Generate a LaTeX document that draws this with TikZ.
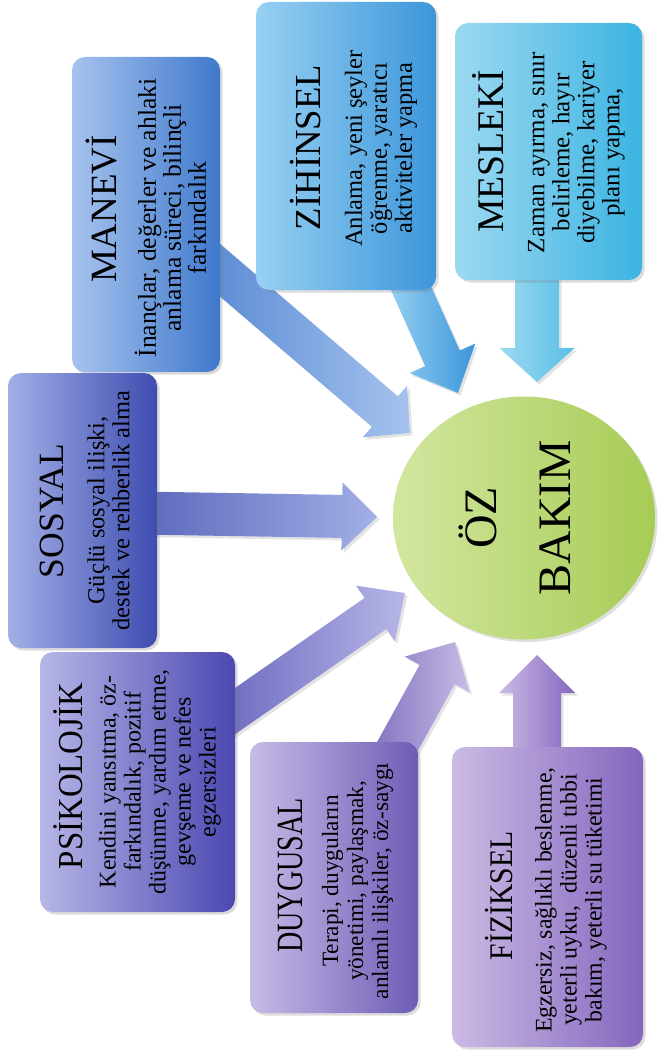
\documentclass[tikz,border=0pt]{standalone}
\usepackage{fontspec}
\setmainfont{Liberation Serif}
\usetikzlibrary{calc,shapes.geometric,shadows}
\definecolor{c1L}{HTML}{A6C3EE}\definecolor{c1R}{HTML}{3F78CC}
\definecolor{c2L}{HTML}{97D0F2}\definecolor{c2R}{HTML}{3C96DA}
\definecolor{c3L}{HTML}{9CD9F1}\definecolor{c3R}{HTML}{3CB4E2}
\definecolor{c4L}{HTML}{A3AFE6}\definecolor{c4R}{HTML}{3E4DB0}
\definecolor{c5L}{HTML}{B7B6E7}\definecolor{c5R}{HTML}{4B48B1}
\definecolor{c6L}{HTML}{C7BBE6}\definecolor{c6R}{HTML}{6E5CB6}
\definecolor{c7L}{HTML}{CBBBE4}\definecolor{c7R}{HTML}{8466BE}
\definecolor{gL}{HTML}{D3E6A0}\definecolor{gR}{HTML}{A6CC55}
\newcommand\blockarrow[6]{%
  \path[#6] let \p1=(#1), \p2=(#2),
      \n1={atan2(\y2-\y1,\x2-\x1)},
      \n2={veclen(\x2-\x1,\y2-\y1)} in
    {[shift={(\p1)}, rotate=\n1]
      (0,-#3) -- ({\n2-#5},-#3) -- ({\n2-#5},-#4) -- ({\n2},0)
      -- ({\n2-#5},#4) -- ({\n2-#5},#3) -- (0,#3) -- cycle};
}
\tikzset{
  box/.style={rectangle, rounded corners=13pt, inner sep=0pt, draw=none,
    drop shadow={opacity=0.28, shadow xshift=2.5pt, shadow yshift=-2.5pt}},
  arr/.style={drop shadow={opacity=0.22, shadow xshift=2.5pt, shadow yshift=-2.5pt}},
  ttl/.style={rotate=90, anchor=base, inner sep=0pt, font=\fontsize{#1}{#1}\selectfont},
  bdy/.style={rotate=90, anchor=center, inner sep=0pt, align=center, font=\fontsize{#1}{25}\selectfont},
}
\begin{document}
\begin{tikzpicture}[x=1pt, y=-1pt]
\useasboundingbox (0,0) rectangle (658,1051);
% arrow end points
\coordinate (s1) at (140,513); \coordinate (t1) at (377,517);
\coordinate (s2) at (200,253); \coordinate (t2) at (410,433);
\coordinate (s3) at (405,275); \coordinate (t3) at (458,393);
\coordinate (s4) at (537,265); \coordinate (t4) at (537,382);
\coordinate (s5) at (215,725); \coordinate (t5) at (405,593);
\coordinate (s6) at (390,760); \coordinate (t6) at (455,642);
\coordinate (s7) at (537,765); \coordinate (t7) at (537,655);
% arrows
\blockarrow{s1}{t1}{21.5}{34}{35}{arr, left color=c4R!85, right color=c4L}
\blockarrow{s2}{t2}{20}{34}{33}{arr, left color=c1R!90, right color=c1L}
\blockarrow{s3}{t3}{19}{36}{38}{arr, left color=c2L, right color=c2R}
\blockarrow{s4}{t4}{22}{37.5}{34}{arr, left color=c3L, right color=c3R!85}
\blockarrow{s5}{t5}{19}{34}{36}{arr, left color=c5R!85, right color=c5L}
\blockarrow{s6}{t6}{20}{37}{37}{arr, left color=c6R!85, right color=c6L}
\blockarrow{s7}{t7}{24}{38}{38}{arr, left color=c7L, right color=c7R}
% boxes
\node[box, minimum width=148pt, minimum height=315pt, left color=c1L, right color=c1R] (manevi) at (146,214.5) {};
\node[box, minimum width=180pt, minimum height=288pt, left color=c2L, right color=c2R] (zihinsel) at (346,146) {};
\node[box, minimum width=187pt, minimum height=257pt, left color=c3L, right color=c3R] (mesleki) at (548.5,151.5) {};
\node[box, minimum width=149pt, minimum height=275pt, left color=c4L, right color=c4R] (sosyal) at (82.5,510.5) {};
\node[box, minimum width=195pt, minimum height=260pt, left color=c5L, right color=c5R] (psikolojik) at (137.5,782) {};
\node[box, minimum width=168pt, minimum height=271pt, left color=c6L, right color=c6R] (duygusal) at (334,877.5) {};
\node[box, minimum width=191pt, minimum height=300pt, left color=c7L, right color=c7R] (fiziksel) at (547.5,897) {};
% circle
\node[ellipse, minimum width=262pt, minimum height=243pt, inner sep=0pt, left color=gL, right color=gR,
  drop shadow={opacity=0.25, shadow xshift=2.5pt, shadow yshift=-2.5pt}] (oz) at (524,518) {};
\node[rotate=90, inner sep=0pt, align=center, font=\fontsize{46.5}{74}\selectfont] (ozt) at (515,518) {ÖZ\\BAKIM};
% titles
\node[ttl=37] (tManevi) at (116,209) {MANEVİ};
\node[ttl=36.7] (tZihinsel) at (320,147.5) {ZİHİNSEL};
\node[ttl=37.6] (tMesleki) at (503,151.5) {MESLEKİ};
\node[ttl=35.5] (tSosyal) at (63,511) {SOSYAL};
\node[ttl=35] (tPsikolojik) at (82,776) {\scalebox{0.94}[1]{PSİKOLOJİK}};
\node[ttl=37] (tDuygusal) at (302,875.5) {\scalebox{0.76}[1]{DUYGUSAL}};
\node[ttl=33] (tFiziksel) at (512,896) {\scalebox{0.9}[1]{FİZİKSEL}};
% bodies
\node[bdy=25.6] (bManevi) at (170.5,218) {İnançlar, değerler ve ahlaki\\anlama süreci, bilinçli\\farkındalık};
\node[bdy=24.5] (bZihinsel) at (381,148.5) {Anlama, yeni şeyler\\öğrenme, yaratıcı\\aktiviteler yapma};
\node[bdy=24.9] (bMesleki) at (576.5,152.5) {Zaman ayırma, sınır\\belirleme, hayır\\diyebilme, kariyer\\planı yapma,};
\node[bdy=24.5] (bSosyal) at (108.5,510.5) {Güçlü sosyal ilişki,\\destek ve rehberlik alma};
\node[bdy=24] (bPsikolojik) at (160,782) {Kendini yansıtma, öz-\\farkındalık, pozitif\\düşünme, yardım etme,\\gevşeme ve nefes\\egzersizleri};
\node[bdy=23.3] (bDuygusal) at (357.5,881) {Terapi, duyguların\\yönetimi, paylaşmak,\\anlamlı ilişkiler, öz-saygı};
\node[bdy=23.8] (bFiziksel) at (571,900) {Egzersiz, sağlıklı beslenme,\\yeterli uyku,\ \ düzenli tıbbi\\bakım, yeterli su tüketimi};
\end{tikzpicture}
\end{document}
